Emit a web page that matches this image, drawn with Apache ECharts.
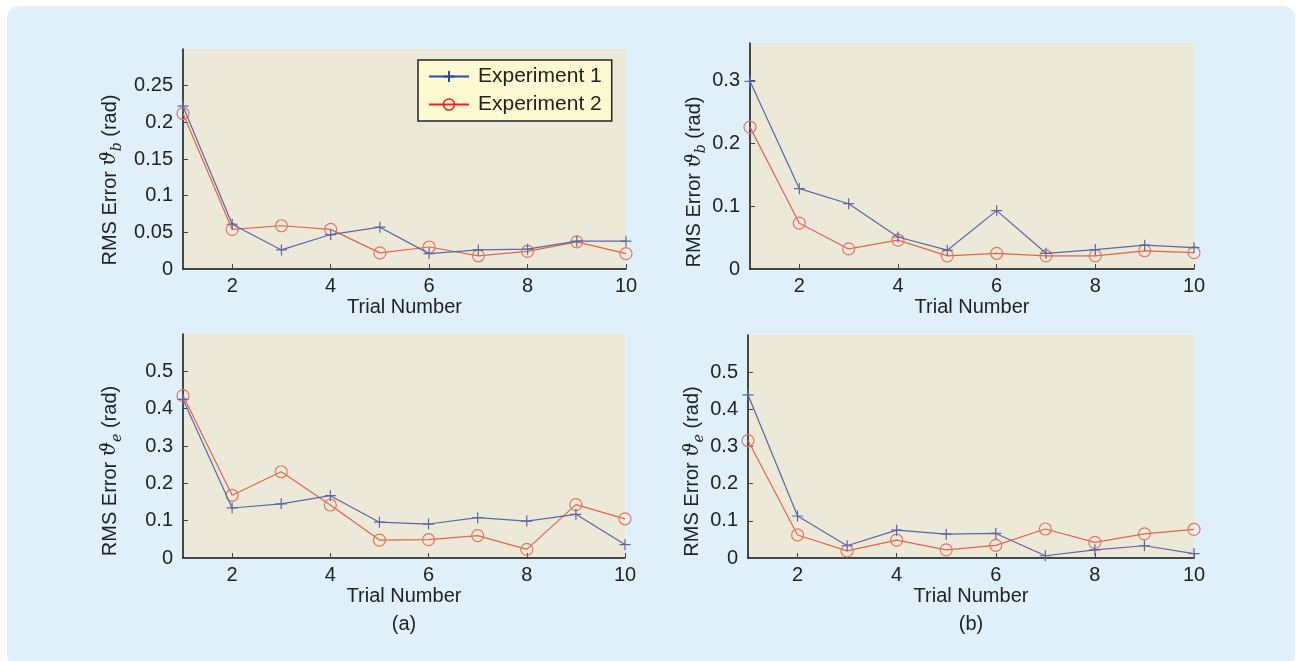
<!DOCTYPE html>
<html>
<head>
<meta charset="utf-8">
<script src="https://cdn.jsdelivr.net/npm/echarts@6/dist/echarts.min.js"></script>
<style>
html,body{margin:0;padding:0;background:#ffffff;}
#bg{position:absolute;left:7px;top:6px;width:1288px;height:660px;border-radius:12px;background:#dff0fb;}
#chart{position:absolute;left:0;top:0;width:1301px;height:661px;}
</style>
</head>
<body>
<div id="bg"></div>
<div id="chart"></div>
<script>
// ---- data ----
const trials = [1, 2, 3, 4, 5, 6, 7, 8, 9, 10];
const xTickLabels = [2, 4, 6, 8, 10];
const seriesNames = ['Experiment 1', 'Experiment 2'];

// (a) top: RMS error theta_b
const topA_exp1 = [0.222, 0.061, 0.026, 0.047, 0.057, 0.021, 0.026, 0.027, 0.038, 0.038];
const topA_exp2 = [0.212, 0.054, 0.059, 0.054, 0.022, 0.030, 0.018, 0.024, 0.037, 0.021];
// (b) top
const topB_exp1 = [0.299, 0.128, 0.104, 0.051, 0.030, 0.093, 0.025, 0.031, 0.038, 0.034];
const topB_exp2 = [0.226, 0.073, 0.032, 0.046, 0.021, 0.025, 0.021, 0.021, 0.029, 0.026];
// (a) bottom: RMS error theta_e
const botA_exp1 = [0.425, 0.134, 0.145, 0.167, 0.096, 0.091, 0.108, 0.099, 0.117, 0.036];
const botA_exp2 = [0.435, 0.168, 0.231, 0.142, 0.048, 0.049, 0.060, 0.023, 0.143, 0.105];
// (b) bottom
const botB_exp1 = [0.439, 0.113, 0.033, 0.075, 0.064, 0.066, 0.006, 0.022, 0.033, 0.012];
const botB_exp2 = [0.316, 0.062, 0.019, 0.048, 0.022, 0.034, 0.078, 0.042, 0.065, 0.077];

const yMaxes = [0.3, 0.36, 0.6, 0.6];
const yIntervals = [0.05, 0.1, 0.1, 0.1];
const panelLabels = ['(a)', '(b)'];

// ---- styles ----
const FONT = '"Liberation Sans", Arial, Helvetica, sans-serif';
const BLUE_LINE = '#5b67a6';
const RED_LINE = '#e2654a';
const BLUE_LEG = '#2a4aa6';
const RED_LEG = '#e8202a';
const PLUS = 'path://M5,0L5,10M0,5L10,5';

const grids = [
  {left: 183, top: 49, width: 443, height: 220},
  {left: 750, top: 43, width: 444, height: 226},
  {left: 183, top: 334, width: 442, height: 224},
  {left: 748, top: 335, width: 446, height: 223}
].map(g => Object.assign({show: true, backgroundColor: '#ece9d9', borderWidth: 0, containLabel: false}, g));

const xAxes = grids.map((g, i) => ({
  type: 'value', gridIndex: i, min: 1, max: 10,
  name: 'Trial Number', nameLocation: 'middle', nameGap: 28,
  nameTextStyle: {fontFamily: FONT, fontSize: 20, color: '#222'},
  axisLine: {show: true, onZero: false, lineStyle: {color: '#111', width: 1.5}},
  axisTick: {show: true, inside: true, length: 5, customValues: xTickLabels, lineStyle: {color: '#444'}},
  axisLabel: {customValues: xTickLabels, margin: 7, fontFamily: FONT, fontSize: 20, color: '#222'},
  splitLine: {show: false}
}));

function yName(sub) {
  return 'RMS Error {t|ϑ}{s|' + sub + '} (rad)';
}
const nameGaps = [59, 28, 59, 28];
const nameShift = [42, 52, 50, 50];
const yAxes = grids.map((g, i) => ({
  type: 'value', gridIndex: i, min: 0, max: yMaxes[i], interval: yIntervals[i],
  name: yName(i < 2 ? 'b' : 'e'), nameLocation: 'middle', nameGap: nameGaps[i],
  nameTextStyle: {
    fontFamily: FONT, fontSize: 20, color: '#222', lineHeight: 28,
    padding: [0, nameShift[i], 0, 0],
    rich: {
      t: {fontFamily: '"DejaVu Serif", serif', fontStyle: 'italic', fontSize: 20, color: '#222', lineHeight: 28},
      s: {fontFamily: '"DejaVu Serif", serif', fontStyle: 'italic', fontSize: 14, color: '#222', lineHeight: 14, verticalAlign: 'bottom'}
    }
  },
  axisLine: {show: true, onZero: false, lineStyle: {color: '#111', width: 1.5}},
  axisTick: {show: true, inside: true, length: 5, lineStyle: {color: '#444'}},
  axisLabel: {showMaxLabel: false, margin: 10, fontFamily: FONT, fontSize: 20, color: '#222',
    formatter: v => String(+v.toFixed(2))},
  splitLine: {show: false}
}));

const allData = [[topA_exp1, topA_exp2], [topB_exp1, topB_exp2], [botA_exp1, botA_exp2], [botB_exp1, botB_exp2]];
const series = [];
allData.forEach((pair, i) => {
  series.push({
    name: seriesNames[0], type: 'line', xAxisIndex: i, yAxisIndex: i,
    data: trials.map((t, k) => [t, pair[0][k]]),
    symbol: PLUS, symbolSize: 11, showAllSymbol: true,
    lineStyle: {color: BLUE_LINE, width: 1.2},
    itemStyle: {color: BLUE_LINE, borderColor: BLUE_LINE, borderWidth: 1.2},
    emphasis: {disabled: true}, animation: false, clip: false, z: 3
  });
  series.push({
    name: seriesNames[1], type: 'line', xAxisIndex: i, yAxisIndex: i,
    data: trials.map((t, k) => [t, pair[1][k]]),
    symbol: 'circle', symbolSize: 12, showAllSymbol: true,
    lineStyle: {color: RED_LINE, width: 1.2},
    itemStyle: {color: 'rgba(0,0,0,0)', borderColor: '#e57560', borderWidth: 1.2},
    emphasis: {disabled: true}, animation: false, clip: false, z: 2
  });
});

const option = {
  animation: false,
  grid: grids,
  xAxis: xAxes,
  yAxis: yAxes,
  legend: {
    orient: 'vertical', left: 418, top: 60,
    backgroundColor: '#fdf9d0', borderColor: '#222', borderWidth: 1.5, borderRadius: 0,
    padding: [6, 10, 6, 10], itemGap: 7, itemWidth: 40, itemHeight: 14,
    textStyle: {fontFamily: FONT, fontSize: 21, color: '#222', padding: [0, 0, 0, 4]},
    selectedMode: false,
    data: [
      {name: seriesNames[0], itemStyle: {color: BLUE_LEG, borderColor: BLUE_LEG, borderWidth: 2}, lineStyle: {color: BLUE_LEG, width: 2}},
      {name: seriesNames[1], itemStyle: {color: 'rgba(0,0,0,0)', borderColor: RED_LEG, borderWidth: 1.5}, lineStyle: {color: RED_LEG, width: 2}}
    ]
  },
  graphic: [
    {type: 'text', x: 404, y: 624, style: {text: panelLabels[0], textAlign: 'center', textVerticalAlign: 'middle', font: '20px ' + FONT, fill: '#222'}},
    {type: 'text', x: 971, y: 624, style: {text: panelLabels[1], textAlign: 'center', textVerticalAlign: 'middle', font: '20px ' + FONT, fill: '#222'}}
  ],
  series: series
};

const chart = echarts.init(document.getElementById('chart'), null, {renderer: 'canvas'});
chart.setOption(option);
</script>
</body>
</html>
